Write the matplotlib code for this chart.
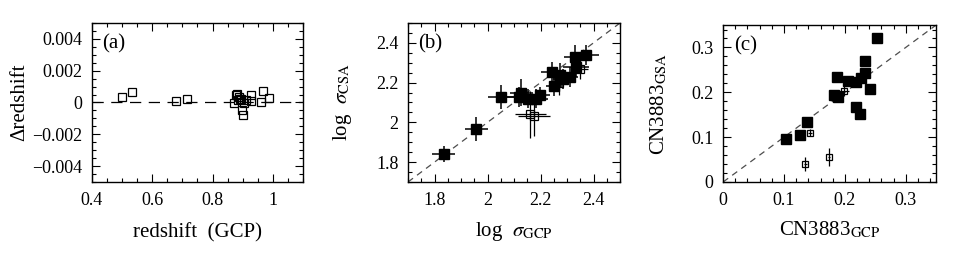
import numpy as np
import matplotlib
matplotlib.use("Agg")
from matplotlib import pyplot as plt
from matplotlib.ticker import MultipleLocator

plt.rcParams['font.family'] = ['Liberation Serif', 'DejaVu Serif']
plt.rcParams['mathtext.fontset'] = 'stix'

# (a) redshift comparison
z_gcp = [0.501, 0.532, 0.680, 0.715, 0.880, 0.872, 0.889, 0.884, 0.895, 0.898,
         0.900, 0.911, 0.903, 0.928, 0.928, 0.960, 0.966, 0.986, 0.877, 0.892]
dz = [0.00032, 0.00067, 0.0001, 0.00025, 0.00053, -0.00006, 0.00036, 0.00015, 0.00025, -0.00048,
      -0.00076, 0.00015, -0.00006, 0.00046, 0.0001, 0.00004, 0.00074, 0.0003, 0.00045, 0.0002]

# (b) log sigma, filled = good, open = poorer
sig_gcp = [1.835, 1.958, 2.050, 2.120, 2.128, 2.153, 2.182, 2.197, 2.242, 2.250,
           2.273, 2.286, 2.310, 2.330, 2.334, 2.371]
sig_csa = [1.842, 1.968, 2.126, 2.126, 2.150, 2.120, 2.120, 2.140, 2.255, 2.185,
           2.240, 2.220, 2.230, 2.330, 2.280, 2.340]
sig_gcp_err = [0.044, 0.044, 0.05, 0.05, 0.045, 0.04, 0.045, 0.04, 0.04, 0.03,
               0.04, 0.04, 0.03, 0.04, 0.05, 0.05]
sig_csa_err = [0.04, 0.06, 0.06, 0.05, 0.07, 0.05, 0.05, 0.04, 0.05, 0.05,
               0.06, 0.05, 0.05, 0.06, 0.05, 0.05]
sig_gcp_o = [2.162, 2.175, 2.270, 2.350]
sig_csa_o = [2.040, 2.030, 2.200, 2.270]
sig_gcp_o_err = [0.06, 0.06, 0.03, 0.03]
sig_csa_o_err = [0.12, 0.10, 0.06, 0.05]

# (c) CN3883
cn_gcp = [0.1038, 0.127, 0.137, 0.182, 0.188, 0.187, 0.205, 0.218, 0.226, 0.233,
          0.233, 0.241, 0.218, 0.225, 0.253]
cn_csa = [0.0962, 0.104, 0.134, 0.194, 0.190, 0.235, 0.226, 0.222, 0.232, 0.243,
          0.270, 0.207, 0.167, 0.152, 0.322]
cn_gcp_o = [0.199, 0.143, 0.135, 0.174]
cn_csa_o = [0.203, 0.110, 0.040, 0.056]
cn_gcp_o_err = [0.008, 0.003, 0.002, 0.002]
cn_csa_o_err = [0.012, 0.008, 0.015, 0.02]

fig = plt.figure(figsize=(9.54, 2.54), dpi=100)
axa = fig.add_axes([0.0964, 0.2835, 0.2212, 0.626])
axb = fig.add_axes([0.4277, 0.2835, 0.2222, 0.626])
axc = fig.add_axes([0.7580, 0.2835, 0.2233, 0.618])

def style(ax):
    ax.tick_params(which='both', direction='in', top=True, right=True, labelsize=13, pad=7)
    ax.tick_params(which='major', length=6, width=0.8)
    ax.tick_params(which='minor', length=3, width=0.8)
    for s in ax.spines.values():
        s.set_linewidth(1.0)

# panel a
axa.axhline(0, color='k', ls=(0, (9, 6)), lw=0.9)
axa.plot(z_gcp, dz, 's', mfc='none', mec='k', ms=6, mew=0.9)
axa.set_xlim(0.4, 1.1)
axa.set_ylim(-0.005, 0.005)
axa.xaxis.set_minor_locator(MultipleLocator(0.05))
axa.yaxis.set_minor_locator(MultipleLocator(0.0005))
axa.set_xticks([0.4, 0.6, 0.8, 1.0], ['0.4', '0.6', '0.8', '1'])
axa.set_yticks([-0.004, -0.002, 0, 0.002, 0.004], ['\u22120.004', '\u22120.002', '0', '0.002', '0.004'])
axa.set_xlabel('redshift  (GCP)', fontsize=15, labelpad=10)
axa.set_ylabel('\u0394redshift', fontsize=15, labelpad=2)
axa.text(0.05, 0.93, '(a)', transform=axa.transAxes, fontsize=15, va='top')
style(axa)

# panel b
axb.plot([1.7, 2.5], [1.7, 2.5], color='0.3', ls=(0, (5, 4)), lw=0.9)
axb.errorbar(sig_gcp_o, sig_csa_o, xerr=sig_gcp_o_err, yerr=sig_csa_o_err, fmt='s',
             mfc='none', mec='k', ecolor='k', ms=6, mew=0.9, elinewidth=0.9, capsize=0)
axb.errorbar(sig_gcp, sig_csa, xerr=sig_gcp_err, yerr=sig_csa_err, fmt='s',
             mfc='k', mec='k', ecolor='k', ms=6.5, elinewidth=1.1, capsize=0)
axb.set_xlim(1.7, 2.5)
axb.set_ylim(1.7, 2.5)
axb.xaxis.set_minor_locator(MultipleLocator(0.05))
axb.yaxis.set_minor_locator(MultipleLocator(0.05))
axb.set_xticks([1.8, 2.0, 2.2, 2.4], ['1.8', '2', '2.2', '2.4'])
axb.set_yticks([1.8, 2.0, 2.2, 2.4], ['1.8', '2', '2.2', '2.4'])
axb.set_xlabel(r'log  $\sigma_{\rm GCP}$', fontsize=15, labelpad=8)
axb.set_ylabel(r'log  $\sigma_{\rm CSA}$', fontsize=15, labelpad=16)
axb.text(0.05, 0.93, '(b)', transform=axb.transAxes, fontsize=15, va='top')
style(axb)

# panel c
axc.plot([0, 0.35], [0, 0.35], color='0.3', ls=(0, (5, 4)), lw=0.9)
axc.errorbar(cn_gcp_o, cn_csa_o, xerr=cn_gcp_o_err, yerr=cn_csa_o_err, fmt='s',
             mfc='none', mec='k', ecolor='k', ms=5, mew=0.9, elinewidth=0.9, capsize=0)
axc.plot(cn_gcp, cn_csa, 's', mfc='k', mec='k', ms=6.5)
axc.set_xlim(0, 0.35)
axc.set_ylim(0, 0.35)
axc.xaxis.set_minor_locator(MultipleLocator(0.02))
axc.yaxis.set_minor_locator(MultipleLocator(0.02))
axc.set_xticks([0, 0.1, 0.2, 0.3], ['0', '0.1', '0.2', '0.3'])
axc.set_yticks([0, 0.1, 0.2, 0.3], ['0', '0.1', '0.2', '0.3'])
axc.set_xlabel(r'CN3883$_{\rm GCP}$', fontsize=15, labelpad=8)
axc.set_ylabel(r'CN3883$_{\rm GSA}$', fontsize=15, labelpad=16)
axc.text(0.05, 0.93, '(c)', transform=axc.transAxes, fontsize=15, va='top')
style(axc)

fig.savefig('out.png', dpi=100)
